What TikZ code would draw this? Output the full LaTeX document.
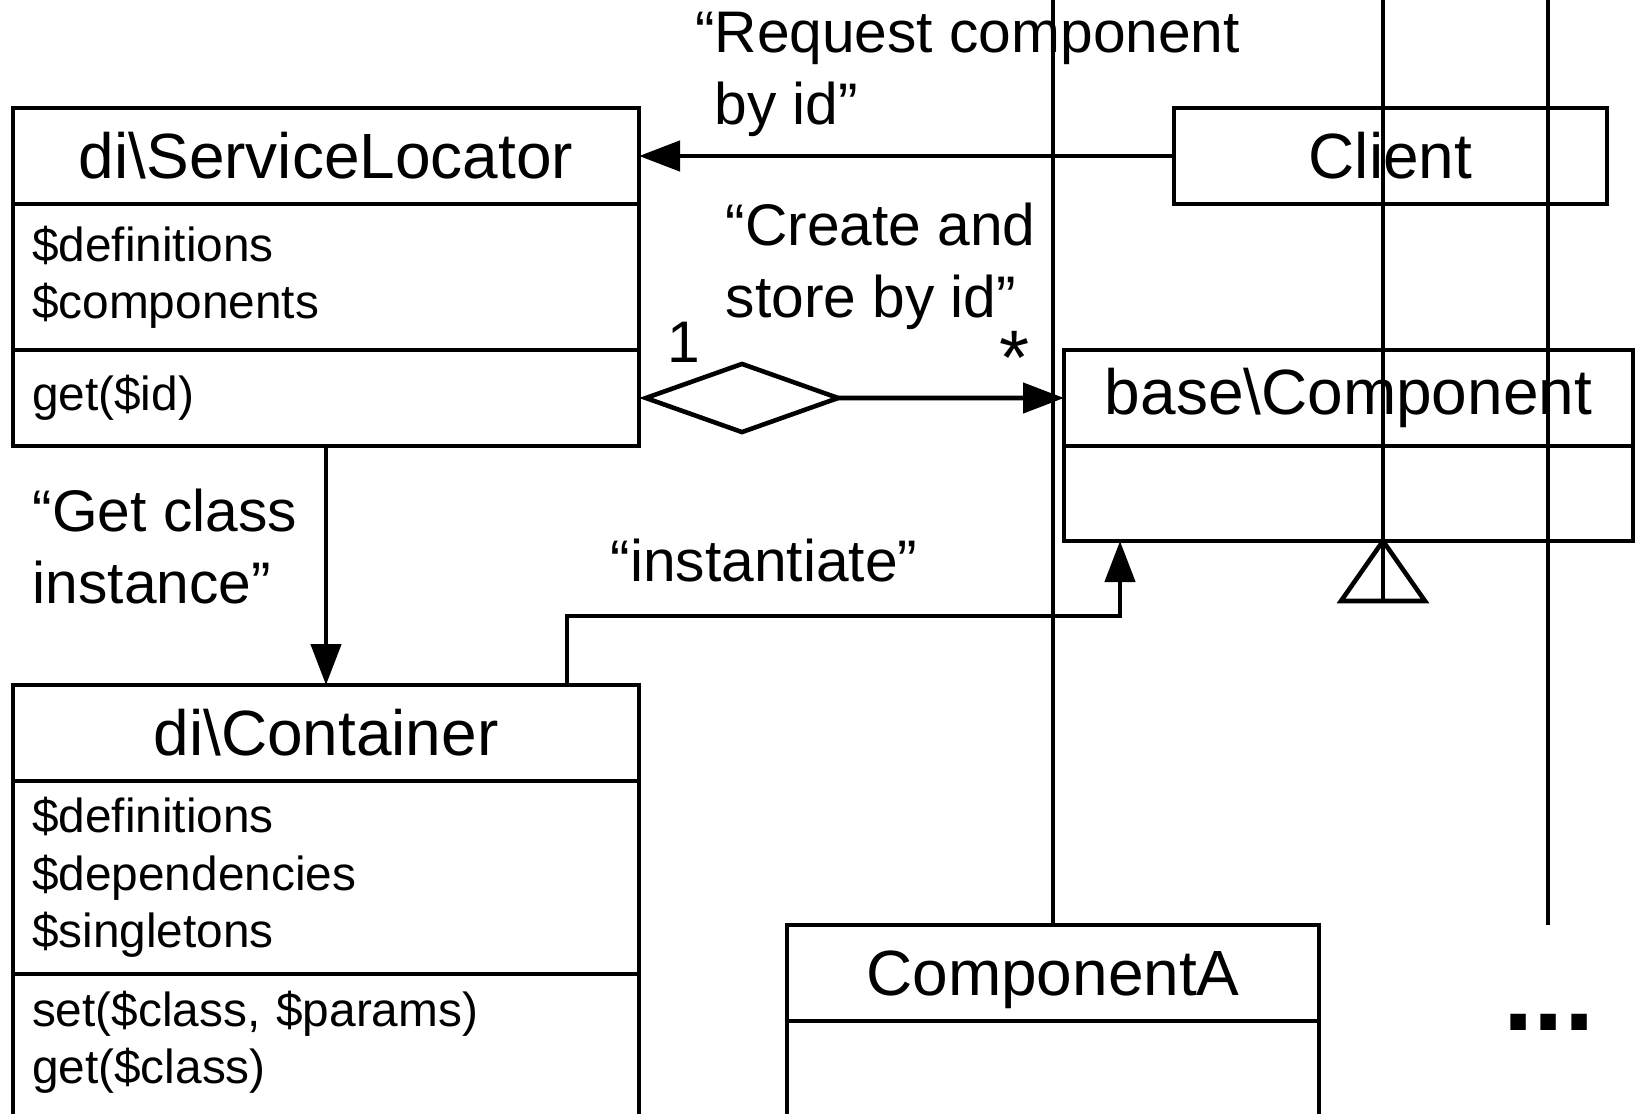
\documentclass[tikz,border=0pt]{standalone}
\usepackage{fontspec}
\setmainfont{Liberation Sans}
\usepackage{tikz}
\usetikzlibrary{positioning, arrows.meta, calc}

\newcommand{\headsize}{\fontsize{18.2}{21.8}\selectfont}
\newcommand{\remarksize}{\fontsize{16.7}{20.3}\selectfont}
\newcommand{\membersize}{\fontsize{13.6}{16.3}\selectfont}

\tikzset{
    classhead/.style={rectangle, draw=black, line width=1.3pt, inner sep=0pt, outer sep=0pt, minimum height=0.96cm, font=\headsize},
    members/.style={rectangle, draw=black, line width=1.3pt, inner xsep=0.19cm, inner ysep=0pt, outer sep=0pt, align=left, font=\membersize},
    remark/.style={inner sep=0pt, align=left, font=\remarksize},
    arrow/.style={-{Triangle[length=0.41cm, width=0.30cm]}, line width=1.3pt},
    wire/.style={line width=1.3pt}
}

\begin{document}
\begin{tikzpicture}
    \useasboundingbox (0,0) rectangle (16.36,-11.14);
    \coordinate (top) at (0,0.1);

    % Service locator
    \node[classhead, minimum width=6.26cm, anchor=north west] (slhead) at (0.13,-1.08) {di\textbackslash ServiceLocator};
    \node[members, text width=5.88cm, minimum height=1.46cm, below=0pt of slhead] (slattr) {\$definitions\\\$components};
    \node[members, text width=5.88cm, minimum height=0.96cm, below=0pt of slattr] (slmeth) {get(\$id)};

    % Client
    \node[classhead, minimum width=4.33cm, anchor=north west] (client) at (11.74,-1.08) {Client};

    % Component base class
    \node[classhead, minimum width=5.69cm, anchor=north west] (basehead) at (10.64,-3.50) {base\textbackslash Component};
    \node[members, minimum width=5.69cm, minimum height=0.95cm, below=0pt of basehead] (basebody) {};

    % Container
    \node[classhead, minimum width=6.26cm, anchor=north west] (ctrhead) at (0.13,-6.85) {di\textbackslash Container};
    \node[members, text width=5.88cm, minimum height=1.93cm, below=0pt of ctrhead] (ctrattr) {\$definitions\\\$dependencies\\\$singletons};
    \node[members, text width=5.88cm, minimum height=2cm, below=0pt of ctrattr] (ctrmeth) {};
    \node[members, draw=none, text width=5.88cm, anchor=north west] (ctrmethtext) at ([yshift=-0.17cm]ctrmeth.north west) {set(\$class, \$params)\\get(\$class)};

    % Concrete component
    \node[classhead, minimum width=5.32cm, text depth=0pt, anchor=north west] (cpahead) at (7.87,-9.25) {ComponentA};
    \node[members, minimum width=5.32cm, minimum height=1.5cm, below=0pt of cpahead] (cpabody) {};

    % Connectors
    \draw[arrow] (client.west) -- (slhead.east);
    \draw[wire, {Diamond[open, length=2.06cm, width=0.73cm]}-{Triangle[length=0.41cm, width=0.30cm]}] (slmeth.east) -- (basehead.west);
    \draw[arrow] (slmeth.south) -- (ctrhead.north);
    \draw[arrow] ([xshift=-0.72cm]ctrhead.north east) -- ++(0,0.69) -| ([xshift=0.56cm]basebody.south west);

    % Inheritance
    \coordinate (gen) at ([xshift=3.19cm]basebody.south west);
    \draw[wire] (gen) -- ++(-0.42,-0.60) -- ++(0.84,0) -- cycle;
    \draw[wire] (gen |- top) -- ([yshift=-0.60cm]gen);
    \draw[wire] (cpahead.north |- top) -- (cpahead.north);
    \coordinate (more) at (15.48,-9.25);
    \draw[wire] (more |- top) -- (more);
    \node[font=\fontsize{31}{31}\selectfont\bfseries, inner sep=0pt, anchor=base] (dots) at (15.49,-10.30) {...};

    % Labels
    \node[remark, anchor=base west] (reqlbl) at (7.14,-1.24) {\llap{“}Request component\\by id”};
    \node[remark, anchor=base west] (storelbl) at (7.25,-3.17) {“Create and\\store by id”};
    \node[remark, anchor=base west] (getlbl) at (0.32,-6.03) {“Get class\\instance”};
    \node[remark, anchor=base west] (instlbl) at (6.10,-5.81) {“instantiate”};
    \node[remark, anchor=north] (one) at (6.84,-3.21) {1};
    \node[remark, anchor=north, font=\fontsize{22}{22}\selectfont] (many) at (10.15,-3.31) {*};
\end{tikzpicture}
\end{document}
